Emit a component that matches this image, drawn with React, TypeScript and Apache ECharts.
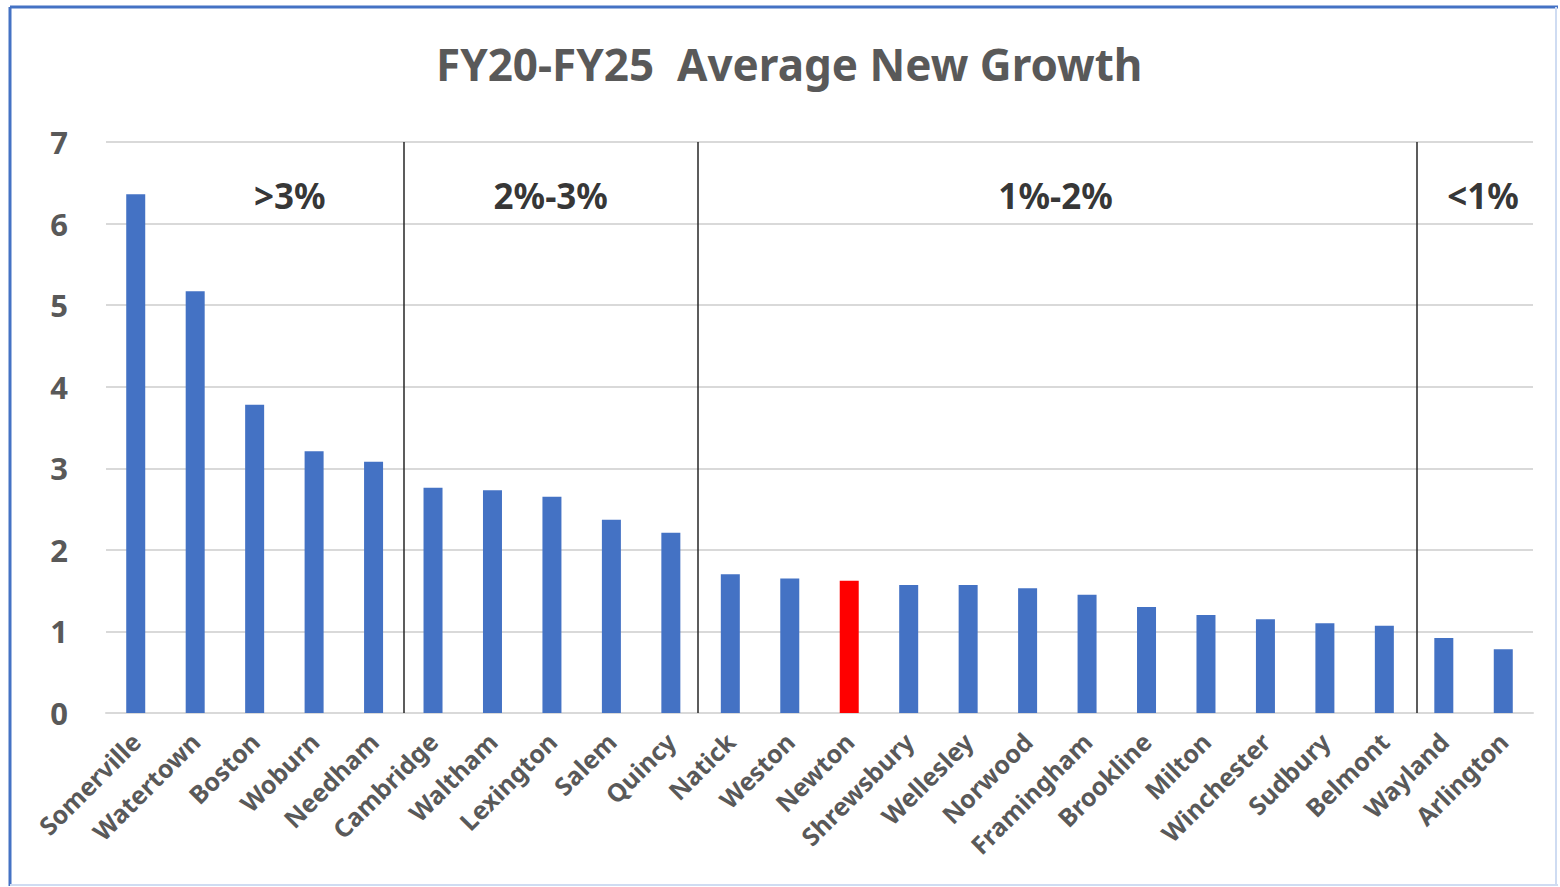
import React, { useEffect, useRef } from "react";
import * as echarts from "echarts";

const towns = [
  "Somerville", "Watertown", "Boston", "Woburn", "Needham",
  "Cambridge", "Waltham", "Lexington", "Salem", "Quincy",
  "Natick", "Weston", "Newton", "Shrewsbury", "Wellesley", "Norwood",
  "Framingham", "Brookline", "Milton", "Winchester", "Sudbury", "Belmont",
  "Wayland", "Arlington",
];
const growth = [
  6.36, 5.17, 3.78, 3.21, 3.08,
  2.76, 2.73, 2.65, 2.37, 2.21,
  1.70, 1.65, 1.62, 1.57, 1.57, 1.53,
  1.45, 1.30, 1.20, 1.15, 1.10, 1.07,
  0.92, 0.78,
];
const highlightTown = "Newton";
const yTicks = [0, 1, 2, 3, 4, 5, 6, 7];
// group boundaries (in category-slot units) and group labels
const groupBoundaries = [5, 9.95, 22.05];
const groupLabels = [">3%", "2%-3%", "1%-2%", "<1%"];
const groupLabelPos = [3.09, 7.48, 15.97, 23.16];
const groupLabelY = 6.35;

export default function App() {
  const ref = useRef<HTMLDivElement>(null);
  useEffect(() => {
    document.body.style.margin = "0";
    const chart = echarts.init(ref.current!, undefined, { renderer: "svg" });
    const option: any = {
      animation: false,
      backgroundColor: "#ffffff",
      title: {
        text: "FY20-FY25  Average New Growth",
        left: 431,
        top: 37,
        textStyle: {
          fontFamily: "Noto Sans",
          fontSize: 44,
          fontWeight: "bold",
          color: "#595959",
        },
      },
      graphic: [
        { type: "line", shape: { x1: 10, y1: 7, x2: 10, y2: 886 }, style: { stroke: "#4472C4", lineWidth: 3 } },
        { type: "line", shape: { x1: 10, y1: 7, x2: 1558, y2: 7 }, style: { stroke: "#4472C4", lineWidth: 3 } },
        { type: "line", shape: { x1: 1556, y1: 7, x2: 1556, y2: 886 }, style: { stroke: "#cfdcf2", lineWidth: 2 } },
        { type: "line", shape: { x1: 10, y1: 885, x2: 1558, y2: 885 }, style: { stroke: "#cfdcf2", lineWidth: 2 } },
      ],
      grid: { left: 106, right: 27, top: 142, bottom: 174 },
      xAxis: [
        {
          type: "category",
          data: towns,
          axisTick: { show: false },
          axisLine: { lineStyle: { color: "#d9d9d9", width: 2 } },
          axisLabel: {
            rotate: 45,
            interval: 0,
            margin: 24,
            fontFamily: "Noto Sans",
            fontSize: 25,
            fontWeight: "bold",
            color: "#595959",
          },
        },
        {
          type: "value",
          min: 0,
          max: towns.length,
          show: false,
          position: "bottom",
        },
      ],
      yAxis: {
        type: "value",
        min: 0,
        max: 7,
        interval: 1,
        axisLine: { show: false },
        axisTick: { show: false },
        splitLine: { lineStyle: { color: "#d9d9d9", width: 2 } },
        axisLabel: {
          margin: 38,
          fontFamily: "Noto Sans",
          fontSize: 31,
          fontWeight: "bold",
          color: "#595959",
          formatter: (v: number) => (yTicks.includes(v) ? String(v) : ""),
        },
      },
      series: [
        {
          type: "bar",
          xAxisIndex: 0,
          barWidth: 19,
          data: towns.map((t, i) => ({
            value: growth[i],
            itemStyle: { color: t === highlightTown ? "#FF0000" : "#4472C4" },
          })),
        },
        {
          type: "scatter",
          xAxisIndex: 1,
          symbolSize: 0,
          data: groupLabels.map((l, i) => ({ name: l, value: [groupLabelPos[i], groupLabelY] })),
          label: {
            show: true,
            position: "inside",
            formatter: (p: any) => p.name,
            fontFamily: "Noto Sans",
            fontSize: 35,
            fontWeight: "bold",
            color: "#000000",
          },
          markLine: {
            silent: true,
            symbol: "none",
            label: { show: false },
            lineStyle: { color: "#262626", width: 1.5, type: "solid" },
            data: groupBoundaries.map((b) => ({ xAxis: b })),
          },
        },
      ],
    };
    chart.setOption(option);
    return () => chart.dispose();
  }, []);
  return <div ref={ref} style={{ width: 1560, height: 887 }} />;
}
